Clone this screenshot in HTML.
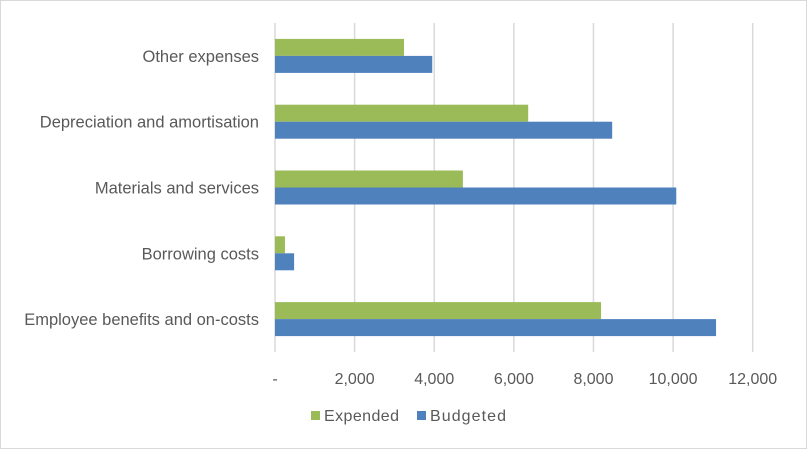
<!DOCTYPE html>
<html><head><meta charset="utf-8"><style>
body{margin:0;background:#fff}
svg text{font-family:"Liberation Sans",sans-serif;fill:#595959}
</style></head><body>
<svg width="807" height="449" viewBox="0 0 807 449">
<rect x="0.5" y="0.5" width="806" height="448" fill="#fff" stroke="#d9d9d9"/>
<g id="grid"></g><g id="bars"></g><g id="labels"></g>
<g>
<rect x="311" y="411" width="9" height="9" fill="#9bbb59"/>
<text x="324" y="421" font-size="16" textLength="75">Expended</text>
<rect x="417" y="411" width="9" height="9" fill="#4f81bd"/>
<text x="430" y="421" font-size="16" textLength="76">Budgeted</text>
</g>
</svg>
<script>
const categories=["Other expenses","Depreciation and amortisation","Materials and services","Borrowing costs","Employee benefits and on-costs"];
const expended=[3240,6360,4720,250,8190];
const budgeted=[3950,8470,10080,480,11080];
const ticks=[0,2000,4000,6000,8000,10000,12000];
const tickLabels=["-","2,000","4,000","6,000","8,000","10,000","12,000"];
const NS="http://www.w3.org/2000/svg";
const x0=275,x1=752.7,xmax=12000,yTop=23,yBottom=352;
const xs=v=>x0+(x1-x0)*v/xmax;
const band=(yBottom-yTop)/categories.length;
function mk(t,a,p){const e=document.createElementNS(NS,t);for(const k in a)e.setAttribute(k,a[k]);p.appendChild(e);return e;}
const gG=document.getElementById('grid'),gB=document.getElementById('bars'),gL=document.getElementById('labels');
ticks.forEach((t,i)=>{
 const ln=mk('line',{x1:xs(t),x2:xs(t),y1:yTop,y2:yBottom,stroke:'#d9d9d9','stroke-width':1.5},gG);
 
 
 const tx=mk('text',{x:xs(t),y:384,'font-size':16,'text-anchor':'middle'},gL);
 tx.textContent=tickLabels[i];
 
 
});
categories.forEach((c,i)=>{
 const cy=yTop+band*i+band/2;
 const bh=17;
 const r1=mk('rect',{x:x0,y:cy-bh,width:xs(expended[i])-x0,height:bh,fill:'#9bbb59'},gB);
 
 
 const r2=mk('rect',{x:x0,y:cy,width:xs(budgeted[i])-x0,height:bh,fill:'#4f81bd'},gB);
 
 
 const t=mk('text',{x:259,y:cy+6,'font-size':16.5,'text-anchor':'end'},gL);
 t.textContent=c;
 
 
});
</script>
</body></html>
